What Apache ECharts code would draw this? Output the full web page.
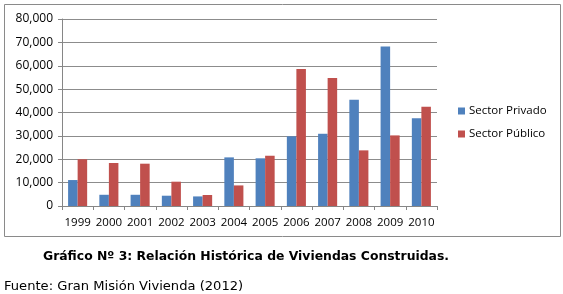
<!DOCTYPE html>
<html>
<head>
<meta charset="utf-8">
<script src="https://cdn.jsdelivr.net/npm/echarts@6/dist/echarts.min.js"></script>
<style>
  html, body { margin: 0; padding: 0; background: #fff; }
  #chart { width: 563px; height: 294px; }
</style>
</head>
<body>
<div id="chart"></div>
<script>
// datos
const years = ['1999', '2000', '2001', '2002', '2003', '2004', '2005', '2006', '2007', '2008', '2009', '2010']
const privado = [11100, 4800, 4800, 4400, 4100, 20800, 20400, 29800, 30900, 45500, 68200, 37500]
const publico = [20000, 18400, 18100, 10400, 4700, 8800, 21500, 58600, 54800, 23800, 30200, 42500]
const seriesNames = ['Sector Privado', 'Sector Público']
const yTicks = { min: 0, max: 80000, interval: 10000 }

const axisFont = 'Open Sans, Liberation Sans, sans-serif'
const chart = echarts.init(document.getElementById('chart'), null, { renderer: 'canvas' })

chart.setOption({
  animation: false,
  backgroundColor: '#fff',
  title: [
    {
      text: 'Gráfico Nº 3: Relación Histórica de Viviendas Construidas.',
      left: 246, top: 251, textAlign: 'center', padding: 0,
      textStyle: { fontFamily: 'DejaVu Sans', fontSize: 12.4, fontWeight: 'bold', color: '#000' }
    },
    {
      text: 'Fuente: Gran Misión Vivienda (2012)',
      left: 4, top: 280, padding: 0,
      textStyle: { fontFamily: 'DejaVu Sans', fontSize: 13.1, fontWeight: 'normal', color: '#000' }
    }
  ],
  graphic: [{
    type: 'rect',
    shape: { x: 4.5, y: 4.5, width: 556, height: 232 },
    style: { fill: 'none', stroke: '#8a8a8a', lineWidth: 1 },
    silent: true
  }],
  legend: {
    orient: 'vertical',
    left: 458, top: 105, padding: 0,
    itemWidth: 7, itemHeight: 7, itemGap: 11,
    icon: 'rect',
    textStyle: { fontFamily: axisFont, fontSize: 11.5, color: '#000', padding: [0, 0, 0, -1] },
    data: seriesNames
  },
  grid: { left: 62, top: 19, width: 375, height: 187, containLabel: false },
  xAxis: {
    type: 'category',
    data: years,
    axisLine: { lineStyle: { color: '#868686' } },
    axisTick: { show: true, length: 4, lineStyle: { color: '#868686' } },
    axisLabel: { fontFamily: axisFont, fontSize: 11.5, color: '#000', margin: 11, interval: 0 }
  },
  yAxis: {
    type: 'value',
    min: yTicks.min, max: yTicks.max, interval: yTicks.interval,
    axisLine: { show: true, lineStyle: { color: '#868686' } },
    axisTick: { show: true, length: 4, lineStyle: { color: '#868686' } },
    splitLine: { lineStyle: { color: '#8c8c8c', width: 1 } },
    axisLabel: {
      fontFamily: axisFont, fontSize: 12, color: '#000', margin: 9,
      formatter: v => v.toLocaleString('en-US')
    }
  },
  series: [
    {
      name: seriesNames[0], type: 'bar', data: privado,
      itemStyle: { color: '#4F81BD' },
      barGap: '0%', barCategoryGap: '39%'
    },
    {
      name: seriesNames[1], type: 'bar', data: publico,
      itemStyle: { color: '#C0504D' },
      barGap: '0%', barCategoryGap: '39%'
    }
  ]
})
</script>
</body>
</html>
